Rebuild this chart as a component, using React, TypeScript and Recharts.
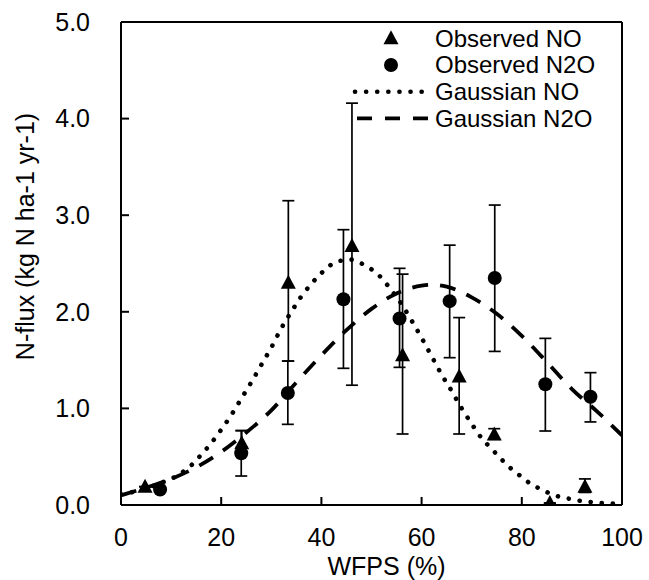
import React from 'react';
import {
  ComposedChart,
  Scatter,
  Line,
  XAxis,
  YAxis,
  ErrorBar,
  ReferenceLine,
  Legend,
} from 'recharts';

const FONT = '"Liberation Sans", Arial, Helvetica, sans-serif';

// axis ticks
const xTicks = [0, 20, 40, 60, 80, 100];
const yTicks = [0, 1, 2, 3, 4, 5];

// legend labels
const seriesNames = ['Observed NO', 'Observed N2O', 'Gaussian NO', 'Gaussian N2O'];

// observed NO (triangles) with lower/upper error bounds
const noX = [4.8, 24.1, 33.4, 46.1, 56.2, 67.5, 74.5, 85.6, 92.6];
const noY = [0.19, 0.64, 2.3, 2.68, 1.55, 1.33, 0.73, 0.02, 0.19];
const noLow = [0.19, 0.6, 1.49, 1.24, 0.735, 0.735, 0.68, 0.02, 0.13];
const noHigh = [0.19, 0.77, 3.15, 4.16, 2.39, 1.94, 0.79, 0.02, 0.27];

// observed N2O (circles)
const n2oX = [7.8, 24.0, 33.3, 44.4, 55.6, 65.6, 74.6, 84.7, 93.7];
const n2oY = [0.16, 0.535, 1.16, 2.13, 1.93, 2.11, 2.35, 1.25, 1.12];
const n2oLow = [0.16, 0.3, 0.835, 1.415, 1.425, 1.525, 1.59, 0.766, 0.86];
const n2oHigh = [0.16, 0.77, 1.49, 2.85, 2.45, 2.69, 3.105, 1.725, 1.37];

// fitted gaussian curves
const gaussNoX = [0, 2, 4, 6, 8, 10, 12, 14, 16, 18, 20, 22, 24, 26, 28, 30, 32, 34, 36, 38, 40, 42, 44, 46, 48, 50,
  52, 54, 56, 58, 60, 62, 64, 66, 68, 70, 72, 74, 76, 78, 80, 82, 84, 86, 88, 90, 92, 94, 96, 98, 100];
const gaussNoY = [0.11, 0.13, 0.16, 0.19, 0.23, 0.27, 0.33, 0.41, 0.52, 0.64, 0.78, 0.93, 1.1, 1.27, 1.45, 1.63, 1.83,
  2.0, 2.16, 2.29, 2.4, 2.49, 2.53, 2.54, 2.5, 2.44, 2.35, 2.22, 2.08, 1.91, 1.73, 1.54, 1.35, 1.18, 1.0, 0.84, 0.69,
  0.58, 0.47, 0.37, 0.29, 0.21, 0.16, 0.11, 0.08, 0.06, 0.04, 0.03, 0.02, 0.015, 0.01];

const gaussN2oX = [0, 5, 10, 15, 20, 25, 30, 35, 40, 45, 50, 55, 60, 62, 65, 70, 75, 80, 85, 90, 95, 100];
const gaussN2oY = [0.1, 0.18, 0.27, 0.39, 0.55, 0.75, 0.98, 1.27, 1.55, 1.81, 2.03, 2.19, 2.27, 2.28, 2.26, 2.15,
  1.98, 1.75, 1.48, 1.2, 0.97, 0.72];

const noPts = noX.map((x, i) => ({ x, y: noY[i], err: [noY[i] - noLow[i], noHigh[i] - noY[i]] }));
const n2oPts = n2oX.map((x, i) => ({ x, y: n2oY[i], err: [n2oY[i] - n2oLow[i], n2oHigh[i] - n2oY[i]] }));
const gaussNo = gaussNoX.map((x, i) => ({ x, y: gaussNoY[i] }));
const gaussN2o = gaussN2oX.map((x, i) => ({ x, y: gaussN2oY[i] }));

const DOTTED = '0.1 11';
const DASHED = '16 12';

const Triangle = (p: any) => {
  const { cx, cy } = p;
  return <polygon points={`${cx},${cy - 8} ${cx - 7.5},${cy + 6} ${cx + 7.5},${cy + 6}`} fill="#000" />;
};

const Dot = (p: any) => <circle cx={p.cx} cy={p.cy} r={7} fill="#000" />;

const XTick = ({ x, y, payload }: any) => (
  <g>
    <line x1={x} y1={y} x2={x} y2={y - 8} stroke="#000" strokeWidth={2} />
    <text x={x} y={y + 32} dy="0.35em" textAnchor="middle" fontSize={25} fontFamily={FONT} fill="#000">
      {payload.value}
    </text>
  </g>
);

const YTick = ({ x, y, payload }: any) => (
  <g>
    <line x1={x} y1={y} x2={x + 8} y2={y} stroke="#000" strokeWidth={2} />
    <text x={x - 31} y={y} dy="0.35em" textAnchor="end" fontSize={25} fontFamily={FONT} fill="#000">
      {Number(payload.value).toFixed(1)}
    </text>
  </g>
);

const XTitle = ({ viewBox }: any) => {
  const vb = viewBox ?? { x: 121, y: 505, width: 501, height: 75 };
  return (
    <text x={vb.x + vb.width / 2 + 15} y={vb.y + 61} dy="0.35em" textAnchor="middle" fontSize={25} fontFamily={FONT}>
      WFPS (%)
    </text>
  );
};

const YTitle = ({ viewBox }: any) => {
  const vb = viewBox ?? { x: 0, y: 22, width: 121, height: 483 };
  const cx = vb.x + 25;
  const cy = vb.y + vb.height / 2 - 27;
  return (
    <text x={cx} y={cy} dy="0.35em" textAnchor="middle" fontSize={25} fontFamily={FONT}
      transform={`rotate(-90, ${cx}, ${cy})`}>
      N-flux (kg N ha-1 yr-1)
    </text>
  );
};

const LegendBox = () => {
  const rowY = [16.3, 43, 69.7, 96.3];
  const tx = 90;
  return (
    <svg width={280} height={115} style={{ overflow: 'visible' }}>
      <polygon points={`46,${rowY[0] - 8} 38.5,${rowY[0] + 6} 53.5,${rowY[0] + 6}`} fill="#000" />
      <circle cx={46} cy={rowY[1]} r={7} fill="#000" />
      <line x1={10} y1={rowY[2]} x2={84} y2={rowY[2]} stroke="#000" strokeWidth={4.6}
        strokeDasharray={DOTTED} strokeLinecap="round" />
      <line x1={12} y1={rowY[3]} x2={84} y2={rowY[3]} stroke="#000" strokeWidth={3.8} strokeDasharray="15 13" />
      {seriesNames.map((n, i) => (
        <text key={n} x={tx} y={rowY[i]} dy="0.35em" fontSize={24} fontFamily={FONT} fill="#000">
          {n}
        </text>
      ))}
    </svg>
  );
};

export default function App() {
  return (
    <div style={{ position: 'absolute', left: 0, top: 0, width: 649, height: 580, background: '#fff' }}>
      <ComposedChart width={649} height={580} margin={{ top: 22, right: 27, left: 0, bottom: 0 }}>
        <XAxis
          dataKey="x"
          type="number"
          domain={[0, 100]}
          ticks={xTicks}
          height={75}
          tickSize={0}
          tickMargin={0}
          tickLine={false}
          axisLine={{ stroke: '#000', strokeWidth: 2 }}
          tick={<XTick />}
          label={<XTitle />}
          allowDataOverflow
        />
        <YAxis
          type="number"
          domain={[0, 5]}
          ticks={yTicks}
          width={121}
          tickSize={0}
          tickMargin={0}
          tickLine={false}
          axisLine={{ stroke: '#000', strokeWidth: 2 }}
          tick={<YTick />}
          label={<YTitle />}
          allowDataOverflow
        />
        <ReferenceLine y={5} stroke="#000" strokeWidth={2} />
        <ReferenceLine x={100} stroke="#000" strokeWidth={2} />

        <Scatter name={seriesNames[0]} data={noPts} dataKey="y" shape={<Triangle />} isAnimationActive={false}>
          <ErrorBar dataKey="err" direction="y" width={6} stroke="#000" strokeWidth={1.7} isAnimationActive={false} />
        </Scatter>
        <Scatter name={seriesNames[1]} data={n2oPts} dataKey="y" shape={<Dot />} isAnimationActive={false}>
          <ErrorBar dataKey="err" direction="y" width={6} stroke="#000" strokeWidth={1.7} isAnimationActive={false} />
        </Scatter>

        <Line
          name={seriesNames[2]}
          data={gaussNo}
          dataKey="y"
          type="monotone"
          stroke="#000"
          strokeWidth={4.6}
          strokeDasharray={DOTTED}
          strokeLinecap="round"
          dot={false}
          activeDot={false}
          isAnimationActive={false}
        />
        <Line
          name={seriesNames[3]}
          data={gaussN2o}
          dataKey="y"
          type="monotone"
          stroke="#000"
          strokeWidth={3.8}
          strokeDasharray={DASHED}
          dot={false}
          activeDot={false}
          isAnimationActive={false}
        />

        <Legend
          layout="vertical"
          align="center"
          verticalAlign="middle"
          content={<LegendBox />}
          wrapperStyle={{ position: 'absolute', left: 345, top: 22, width: 280, height: 115 }}
        />
      </ComposedChart>
    </div>
  );
}
